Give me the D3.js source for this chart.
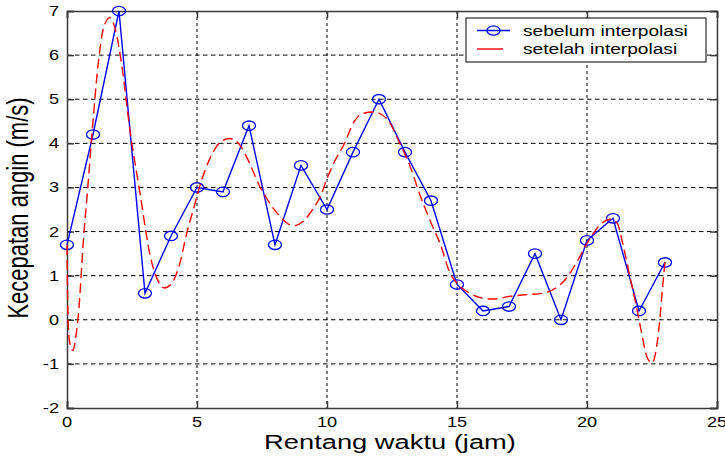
<!DOCTYPE html>
<html>
<head>
<meta charset="utf-8">
<script src="https://cdn.jsdelivr.net/npm/d3@7"></script>
<style>
  body { margin: 0; background: #fff; }
  text { font-family: "Liberation Sans", Arial, sans-serif; fill: #000; }
</style>
</head>
<body>
<div id="chart"></div>
<script>
var svgWidth = 725;
var svgHeight = 458;

// measured hourly values (blue, with circles)
var hours = [0, 1, 2, 3, 4, 5, 6, 7, 8, 9, 10, 11, 12, 13, 14, 15, 16, 17, 18, 19, 20, 21, 22, 23];
var speedBefore = [1.7, 4.2, 7.0, 0.6, 1.9, 3.0, 2.9, 4.4, 1.7, 3.5, 2.5, 3.8, 5.0, 3.8, 2.7, 0.8, 0.2, 0.3, 1.5, 0.0, 1.8, 2.3, 0.2, 1.3];

// interpolated curve (red dashed)
var interpX = [0, 0.04, 0.1, 0.22, 0.35, 0.45, 0.63, 0.8, 1.0, 1.2, 1.4, 1.65, 1.85, 2.1, 2.42, 2.8, 3.2, 3.45, 3.75, 4.0, 4.35, 4.6, 4.86, 5.18, 5.63, 5.9, 6.25, 6.65, 6.9, 7.42, 7.8, 8.2, 8.7, 9.1, 9.5, 9.75, 10.0, 10.3, 10.7, 11.0, 11.4, 11.8, 12.3, 12.8, 13.2, 13.6, 14.0, 14.35, 14.73, 15.0, 15.5, 16.0, 16.4, 17.0, 17.7, 18.3, 18.8, 19.15, 19.6, 20.0, 20.5, 20.9, 21.15, 21.4, 21.65, 21.9, 22.1, 22.3, 22.5, 22.68, 22.8, 22.9, 23.0];
var interpY = [1.7, 0.0, -0.5, -0.7, -0.35, 0.2, 1.8, 3.0, 4.5, 5.8, 6.6, 6.85, 6.6, 5.8, 4.3, 2.9, 1.45, 0.95, 0.72, 0.8, 1.3, 1.95, 2.5, 3.17, 3.81, 4.03, 4.11, 3.96, 3.7, 3.02, 2.64, 2.34, 2.13, 2.24, 2.55, 2.8, 3.2, 3.6, 4.03, 4.45, 4.68, 4.71, 4.56, 4.0, 3.47, 2.79, 2.2, 1.73, 1.06, 0.83, 0.6, 0.49, 0.47, 0.53, 0.57, 0.6, 0.72, 0.9, 1.3, 1.73, 2.15, 2.28, 2.2, 1.66, 0.98, 0.3, -0.3, -0.83, -0.98, -0.6, 0.0, 0.7, 1.3];

var xTicks = [0, 5, 10, 15, 20, 25];
var yTicks = [-2, -1, 0, 1, 2, 3, 4, 5, 6, 7];
var legendLabels = ["sebelum interpolasi", "setelah interpolasi"];

var margin = { top: 11, right: 8, bottom: 50, left: 67 };
var width = svgWidth - margin.left - margin.right;
var height = svgHeight - margin.top - margin.bottom;

var svg = d3.select("#chart")
    .append("svg")
    .attr("width", svgWidth)
    .attr("height", svgHeight);

var chartGroup = svg.append("g")
    .attr("transform", `translate(${margin.left}, ${margin.top})`);

var xScale = d3.scaleLinear().domain([0, 25]).range([0, width]);
var yScale = d3.scaleLinear().domain([-2, 7]).range([height, 0]);

// grid
chartGroup.selectAll(".vgrid")
    .data(xTicks.slice(1, -1))
    .enter()
    .append("line")
    .attr("x1", d => xScale(d)).attr("x2", d => xScale(d))
    .attr("y1", 0).attr("y2", height)
    .attr("stroke", "#000")
    .attr("stroke-width", 1)
    .attr("stroke-dasharray", "3,3");

chartGroup.selectAll(".hgrid")
    .data(yTicks.slice(1, -1))
    .enter()
    .append("line")
    .attr("x1", 0).attr("x2", width)
    .attr("y1", d => yScale(d)).attr("y2", d => yScale(d))
    .attr("stroke", "#000")
    .attr("stroke-width", 1)
    .attr("stroke-dasharray", "4.5,3.5");

// axes (MATLAB style: ticks inside, box all around)
var bottomAxis = d3.axisBottom(xScale).tickValues(xTicks).tickSize(-7).tickFormat("");
var topAxis = d3.axisTop(xScale).tickValues(xTicks).tickSize(-7).tickFormat("");
var leftAxis = d3.axisLeft(yScale).tickValues(yTicks).tickSize(-7).tickFormat("");
var rightAxis = d3.axisRight(yScale).tickValues(yTicks).tickSize(-7).tickFormat("");

chartGroup.append("g").attr("class", "axis").attr("transform", `translate(0, ${height})`).call(bottomAxis);
chartGroup.append("g").attr("class", "axis").call(topAxis);
chartGroup.append("g").attr("class", "axis").call(leftAxis);
chartGroup.append("g").attr("class", "axis").attr("transform", `translate(${width}, 0)`).call(rightAxis);

chartGroup.selectAll(".axis path, .axis line")
    .attr("stroke", "#3a3a3a")
    .attr("stroke-width", 1.5);

// tick labels (slightly stretched like the original)
chartGroup.selectAll(".xlab")
    .data(xTicks)
    .enter()
    .append("text")
    .attr("transform", d => `translate(${xScale(d)}, ${height + 19}) scale(1.3, 1)`)
    .attr("text-anchor", "middle")
    .attr("font-size", "14px")
    .text(d => d);

chartGroup.selectAll(".ylab")
    .data(yTicks)
    .enter()
    .append("text")
    .attr("transform", d => `translate(-8, ${yScale(d) + 5}) scale(1.3, 1)`)
    .attr("text-anchor", "end")
    .attr("font-size", "14px")
    .text(d => d);

// series
var lineBefore = d3.line()
    .x((d, i) => xScale(hours[i]))
    .y(d => yScale(d));

var lineAfter = d3.line()
    .x((d, i) => xScale(interpX[i]))
    .y(d => yScale(d))
    .curve(d3.curveMonotoneX);

chartGroup.append("path")
    .datum(speedBefore)
    .attr("fill", "none")
    .attr("stroke", "#0000ff")
    .attr("stroke-width", 1.4)
    .attr("d", lineBefore);

chartGroup.selectAll(".marker")
    .data(speedBefore)
    .enter()
    .append("ellipse")
    .attr("cx", (d, i) => xScale(hours[i]))
    .attr("cy", d => yScale(d))
    .attr("rx", 6.5)
    .attr("ry", 4.7)
    .attr("fill", "none")
    .attr("stroke", "#0000ff")
    .attr("stroke-width", 1.3);

chartGroup.append("path")
    .datum(interpY)
    .attr("fill", "none")
    .attr("stroke", "#ff0000")
    .attr("stroke-width", 1.4)
    .attr("stroke-dasharray", "10,5")
    .attr("d", lineAfter);

// axis titles
svg.append("text")
    .attr("transform", "translate(390, 449) scale(1.3, 1)")
    .attr("text-anchor", "middle")
    .attr("font-size", "21px")
    .text("Rentang waktu (jam)");

svg.append("text")
    .attr("transform", "translate(28, 208) scale(1.3, 1) rotate(-90)")
    .attr("text-anchor", "middle")
    .attr("font-size", "22px")
    .text("Kecepatan angin (m/s)");

// legend
var legend = svg.append("g").attr("transform", "translate(466, 18)");
legend.append("rect")
    .attr("width", 240).attr("height", 44)
    .attr("fill", "#fff")
    .attr("stroke", "#000")
    .attr("stroke-width", 1);

legend.append("line")
    .attr("x1", 11).attr("x2", 44).attr("y1", 12.5).attr("y2", 12.5)
    .attr("stroke", "#0000ff").attr("stroke-width", 1.4);
legend.append("ellipse")
    .attr("cx", 27.5).attr("cy", 12.5).attr("rx", 6.5).attr("ry", 4.7)
    .attr("fill", "none").attr("stroke", "#0000ff").attr("stroke-width", 1.3);
legend.append("line")
    .attr("x1", 11).attr("x2", 37).attr("y1", 31).attr("y2", 31)
    .attr("stroke", "#ff0000").attr("stroke-width", 1.4);

legend.selectAll(".legtext")
    .data(legendLabels)
    .enter()
    .append("text")
    .attr("transform", (d, i) => `translate(57, ${18 + i * 18}) scale(1.32, 1)`)
    .attr("font-size", "14.5px")
    .text(d => d);
</script>
</body>
</html>
